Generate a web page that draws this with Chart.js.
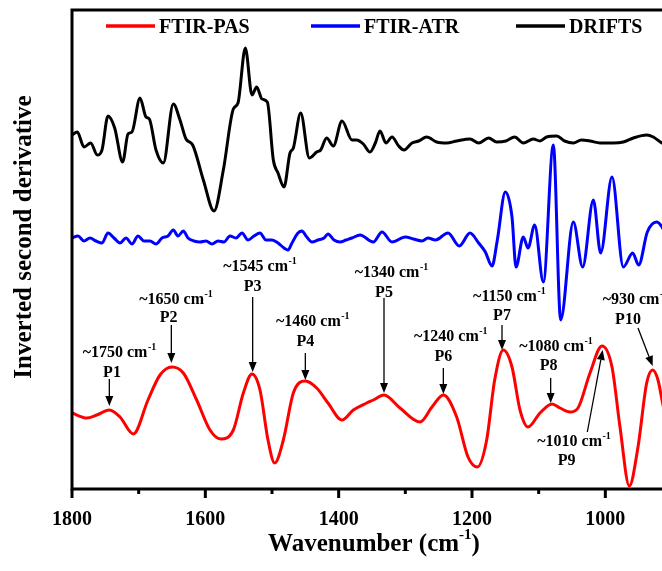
<!DOCTYPE html>
<html><head><meta charset="utf-8">
<script src="https://cdn.jsdelivr.net/npm/chart.js@4.4.1/dist/chart.umd.min.js"></script>
<style>html,body{margin:0;padding:0;background:#fff;}canvas{display:block;}</style>
</head><body>
<canvas id="c" width="662" height="571"></canvas>
<script>
// ---- data ----
const seriesNames = ['FTIR-PAS', 'FTIR-ATR', 'DRIFTS'];
const seriesColors = ['#ff0000', '#0000ff', '#000000'];

const pasWn = [1800,1778,1763,1744,1728,1708,1686,1668,1650,1633,1613,1593,1577,1558,1543,1530,1518,1506,1496,1483,1468,1450,1433,1416,1395,1378,1358,1348,1332,1308,1278,1260,1243,1223,1206,1192,1178,1166,1153,1140,1128,1116,1098,1080,1068,1053,1041,1023,1005,990,978,964,951,938,929,921,915,906];
const pasVal = [76,71,74,79,72,55,89,114,122,116,89,59,50,59,96,115,99,49,26,49,96,108,101,86,69,79,86,89,94,81,67,82,94,72,32,22,49,109,139,122,79,62,76,85,81,77,81,116,143,122,62,3,42,106,119,109,89,59];

const atrWn = [1800,1791,1782,1773,1764,1755,1746,1737,1728,1719,1710,1701,1692,1683,1674,1665,1656,1648,1641,1633,1626,1617,1608,1599,1590,1581,1572,1563,1554,1545,1536,1527,1518,1509,1500,1491,1482,1476,1470,1461,1455,1449,1440,1431,1422,1416,1407,1398,1389,1380,1368,1348,1335,1320,1300,1288,1275,1266,1255,1236,1219,1203,1190,1180,1170,1162,1150,1140,1134,1123,1116,1106,1093,1078,1067,1048,1034,1018,1007,990,973,959,950,937,923,915,906];
const atrVal = [251,253,248,251,248,246,256,251,246,251,245,253,248,248,245,251,253,259,253,258,251,248,247,248,245,248,247,253,251,256,249,253,256,249,249,246,241,239,246,256,258,253,247,249,251,255,249,247,249,251,254,247,257,247,252,250,248,251,249,256,243,256,246,237,223,249,297,272,222,252,241,264,207,344,169,267,222,289,236,312,222,236,224,257,267,262,249];

const drWn = [1800,1792,1782,1772,1762,1755,1746,1736,1724,1716,1710,1698,1689,1684,1674,1663,1648,1638,1629,1619,1603,1587,1573,1558,1551,1540,1530,1523,1515,1507,1498,1491,1482,1473,1468,1457,1444,1433,1427,1418,1408,1395,1380,1373,1363,1353,1345,1338,1329,1320,1310,1302,1290,1280,1268,1253,1238,1223,1203,1190,1175,1163,1149,1136,1123,1108,1098,1088,1073,1061,1048,1036,1023,1008,988,973,958,938,928,915,906];
const drVal = [354,357,342,346,334,339,373,361,327,355,357,391,372,370,339,326,385,369,350,344,309,278,319,380,386,441,394,402,390,387,329,316,302,336,341,376,331,337,339,351,343,368,349,349,345,337,346,358,346,352,343,339,346,348,352,347,346,348,350,346,351,347,348,352,346,350,348,352,353,348,346,349,348,346,346,347,351,354,352,346,345];

const majorTicks = [1800, 1600, 1400, 1200, 1000];
const minorTicks = [1700, 1500, 1300, 1100, 900];

const peakNames = ['P1','P2','P3','P4','P5','P6','P7','P8','P9','P10'];
const peakCm = ['~1750','~1650','~1545','~1460','~1340','~1240','~1150','~1080','~1010','~930'];

// ---- annotation layout (data units) ----
const annotLayout = [
  {lx:1740, cmV:136, pV:116, tail:[1744,110], tip:[1744,83]},
  {lx:1655, cmV:189, pV:171, tail:[1651,164], tip:[1651,126]},
  {lx:1529, cmV:222, pV:202, tail:[1529,192], tip:[1529,117]},
  {lx:1450, cmV:167, pV:147, tail:[1450,136], tip:[1450,109]},
  {lx:1332, cmV:216, pV:196, tail:[1332,191], tip:[1332,96]},
  {lx:1243, cmV:152, pV:132, tail:[1243,121], tip:[1243,95]},
  {lx:1155, cmV:192, pV:173, tail:[1155,164], tip:[1155,139]},
  {lx:1085, cmV:142, pV:123, tail:[1082,111], tip:[1082,86]},
  {lx:1058, cmV:47,  pV:28,  tail:[1027,57],  tip:[1004,139]},
  {lx:966,  cmV:189, pV:169, tail:[951,161],  tip:[929,123]}
];

const FONT = '"Liberation Serif", "Times New Roman", serif';
const toPts = (wn, val) => wn.map((w, i) => ({x: w, y: val[i]}));

function drawSupText(ctx, parts, cx, cy, size) {
  let total = 0;
  const ws = parts.map(p => {
    ctx.font = 'bold ' + (p.sup ? Math.round(size * 0.6) : size) + 'px ' + FONT;
    const w = ctx.measureText(p.t).width; total += w; return w;
  });
  let x = cx - total / 2;
  parts.forEach((p, i) => {
    ctx.font = 'bold ' + (p.sup ? Math.round(size * 0.6) : size) + 'px ' + FONT;
    ctx.fillText(p.t, x, p.sup ? cy - size * 0.38 : cy);
    x += ws[i];
  });
}

const decorPlugin = {
  id: 'decor',
  afterDraw(chart) {
    const ctx = chart.ctx, a = chart.chartArea;
    const xs = chart.scales.x, ys = chart.scales.y;
    ctx.save();
    ctx.fillStyle = '#000'; ctx.strokeStyle = '#000';
    // frame
    ctx.lineWidth = 3; ctx.lineCap = 'square';
    ctx.beginPath();
    ctx.moveTo(a.left, a.bottom); ctx.lineTo(a.left, a.top); ctx.lineTo(a.right + 2, a.top);
    ctx.moveTo(a.left, a.bottom); ctx.lineTo(a.right + 2, a.bottom);
    ctx.stroke();
    ctx.lineCap = 'butt';
    // ticks
    ctx.lineWidth = 3;
    majorTicks.forEach(v => { const px = xs.getPixelForValue(v); if (px >= a.left - 1 && px <= a.right + 1) { ctx.beginPath(); ctx.moveTo(px, a.bottom); ctx.lineTo(px, a.bottom + 9); ctx.stroke(); } });
    minorTicks.forEach(v => { const px = xs.getPixelForValue(v); if (px >= a.left - 1 && px <= a.right + 1) { ctx.beginPath(); ctx.moveTo(px, a.bottom); ctx.lineTo(px, a.bottom + 5); ctx.stroke(); } });

    // legend
    const legStarts = [34, 239, 444];
    ctx.textBaseline = 'middle'; ctx.textAlign = 'left';
    seriesNames.forEach((n, i) => {
      const x0 = a.left + legStarts[i], y = a.top + 16;
      ctx.strokeStyle = seriesColors[i]; ctx.lineWidth = 3.5;
      ctx.beginPath(); ctx.moveTo(x0, y); ctx.lineTo(x0 + 49, y); ctx.stroke();
      ctx.font = 'bold 20px ' + FONT; ctx.fillStyle = '#000';
      ctx.fillText(n, x0 + 53, y + 2);
    });

    // annotations
    ctx.strokeStyle = '#000'; ctx.fillStyle = '#000';
    annotLayout.forEach((L, i) => {
      const lx = xs.getPixelForValue(L.lx);
      ctx.textAlign = 'left'; ctx.textBaseline = 'middle';
      ctx.font = 'bold 16px ' + FONT;
      const main = peakCm[i] + ' cm';
      const mw = ctx.measureText(main).width;
      const cmY = ys.getPixelForValue(L.cmV);
      const mx = lx + 3 - mw / 2;
      ctx.fillText(main, mx, cmY);
      ctx.font = 'bold 10px ' + FONT;
      ctx.fillText('-1', mx + mw + 0.5, cmY - 6);
      ctx.font = 'bold 16px ' + FONT; ctx.textAlign = 'center';
      ctx.fillText(peakNames[i], lx, ys.getPixelForValue(L.pV));
      const tx = xs.getPixelForValue(L.tail[0]), ty = ys.getPixelForValue(L.tail[1]);
      const hx = xs.getPixelForValue(L.tip[0]), hy = ys.getPixelForValue(L.tip[1]);
      const ang = Math.atan2(hy - ty, hx - tx);
      const hl = 10, hw = 4;
      const bx = hx - hl * Math.cos(ang), by = hy - hl * Math.sin(ang);
      ctx.lineWidth = 1.3;
      ctx.beginPath(); ctx.moveTo(tx, ty); ctx.lineTo(bx, by); ctx.stroke();
      ctx.beginPath();
      ctx.moveTo(hx, hy);
      ctx.lineTo(bx + hw * Math.sin(ang), by - hw * Math.cos(ang));
      ctx.lineTo(bx - hw * Math.sin(ang), by + hw * Math.cos(ang));
      ctx.closePath(); ctx.fill();
    });

    // axis titles
    ctx.textAlign = 'left'; ctx.textBaseline = 'middle'; ctx.fillStyle = '#000';
    drawSupText(ctx, [{t:'Wavenumber (cm'}, {t:'-1', sup:true}, {t:')'}], 374, 545, 25);
    ctx.save();
    ctx.translate(25, 237); ctx.rotate(-Math.PI / 2);
    ctx.textAlign = 'center';
    ctx.font = 'bold 25px ' + FONT;
    ctx.fillText('Inverted second derivative', 0, 0);
    ctx.restore();
    ctx.restore();
  }
};

const mk = (i, wn, val) => ({
  label: seriesNames[i], data: toPts(wn, val), borderColor: seriesColors[i],
  borderWidth: 3, pointRadius: 0, fill: false, cubicInterpolationMode: 'monotone'
});

new Chart(document.getElementById('c'), {
  type: 'line',
  data: { datasets: [ mk(2, drWn, drVal), mk(1, atrWn, atrVal), mk(0, pasWn, pasVal) ] },
  options: {
    responsive: false, animation: false, devicePixelRatio: 1,
    layout: { padding: { left: 72, top: 10, right: 0, bottom: 0 } },
    plugins: { legend: { display: false }, tooltip: { enabled: false } },
    scales: {
      x: {
        type: 'linear', reverse: true, min: 915, max: 1800,
        afterFit: s => { s.height = 82; },
        afterBuildTicks: s => { s.ticks = majorTicks.map(v => ({ value: v })); },
        ticks: { autoSkip: false, maxRotation: 0, padding: 11, color: '#000',
                 font: { family: FONT, size: 20, weight: 'bold' }, callback: v => String(v) },
        grid: { display: false }, border: { display: false }
      },
      y: { display: false, min: 0, max: 479 }
    }
  },
  plugins: [decorPlugin]
});
</script>
</body></html>
